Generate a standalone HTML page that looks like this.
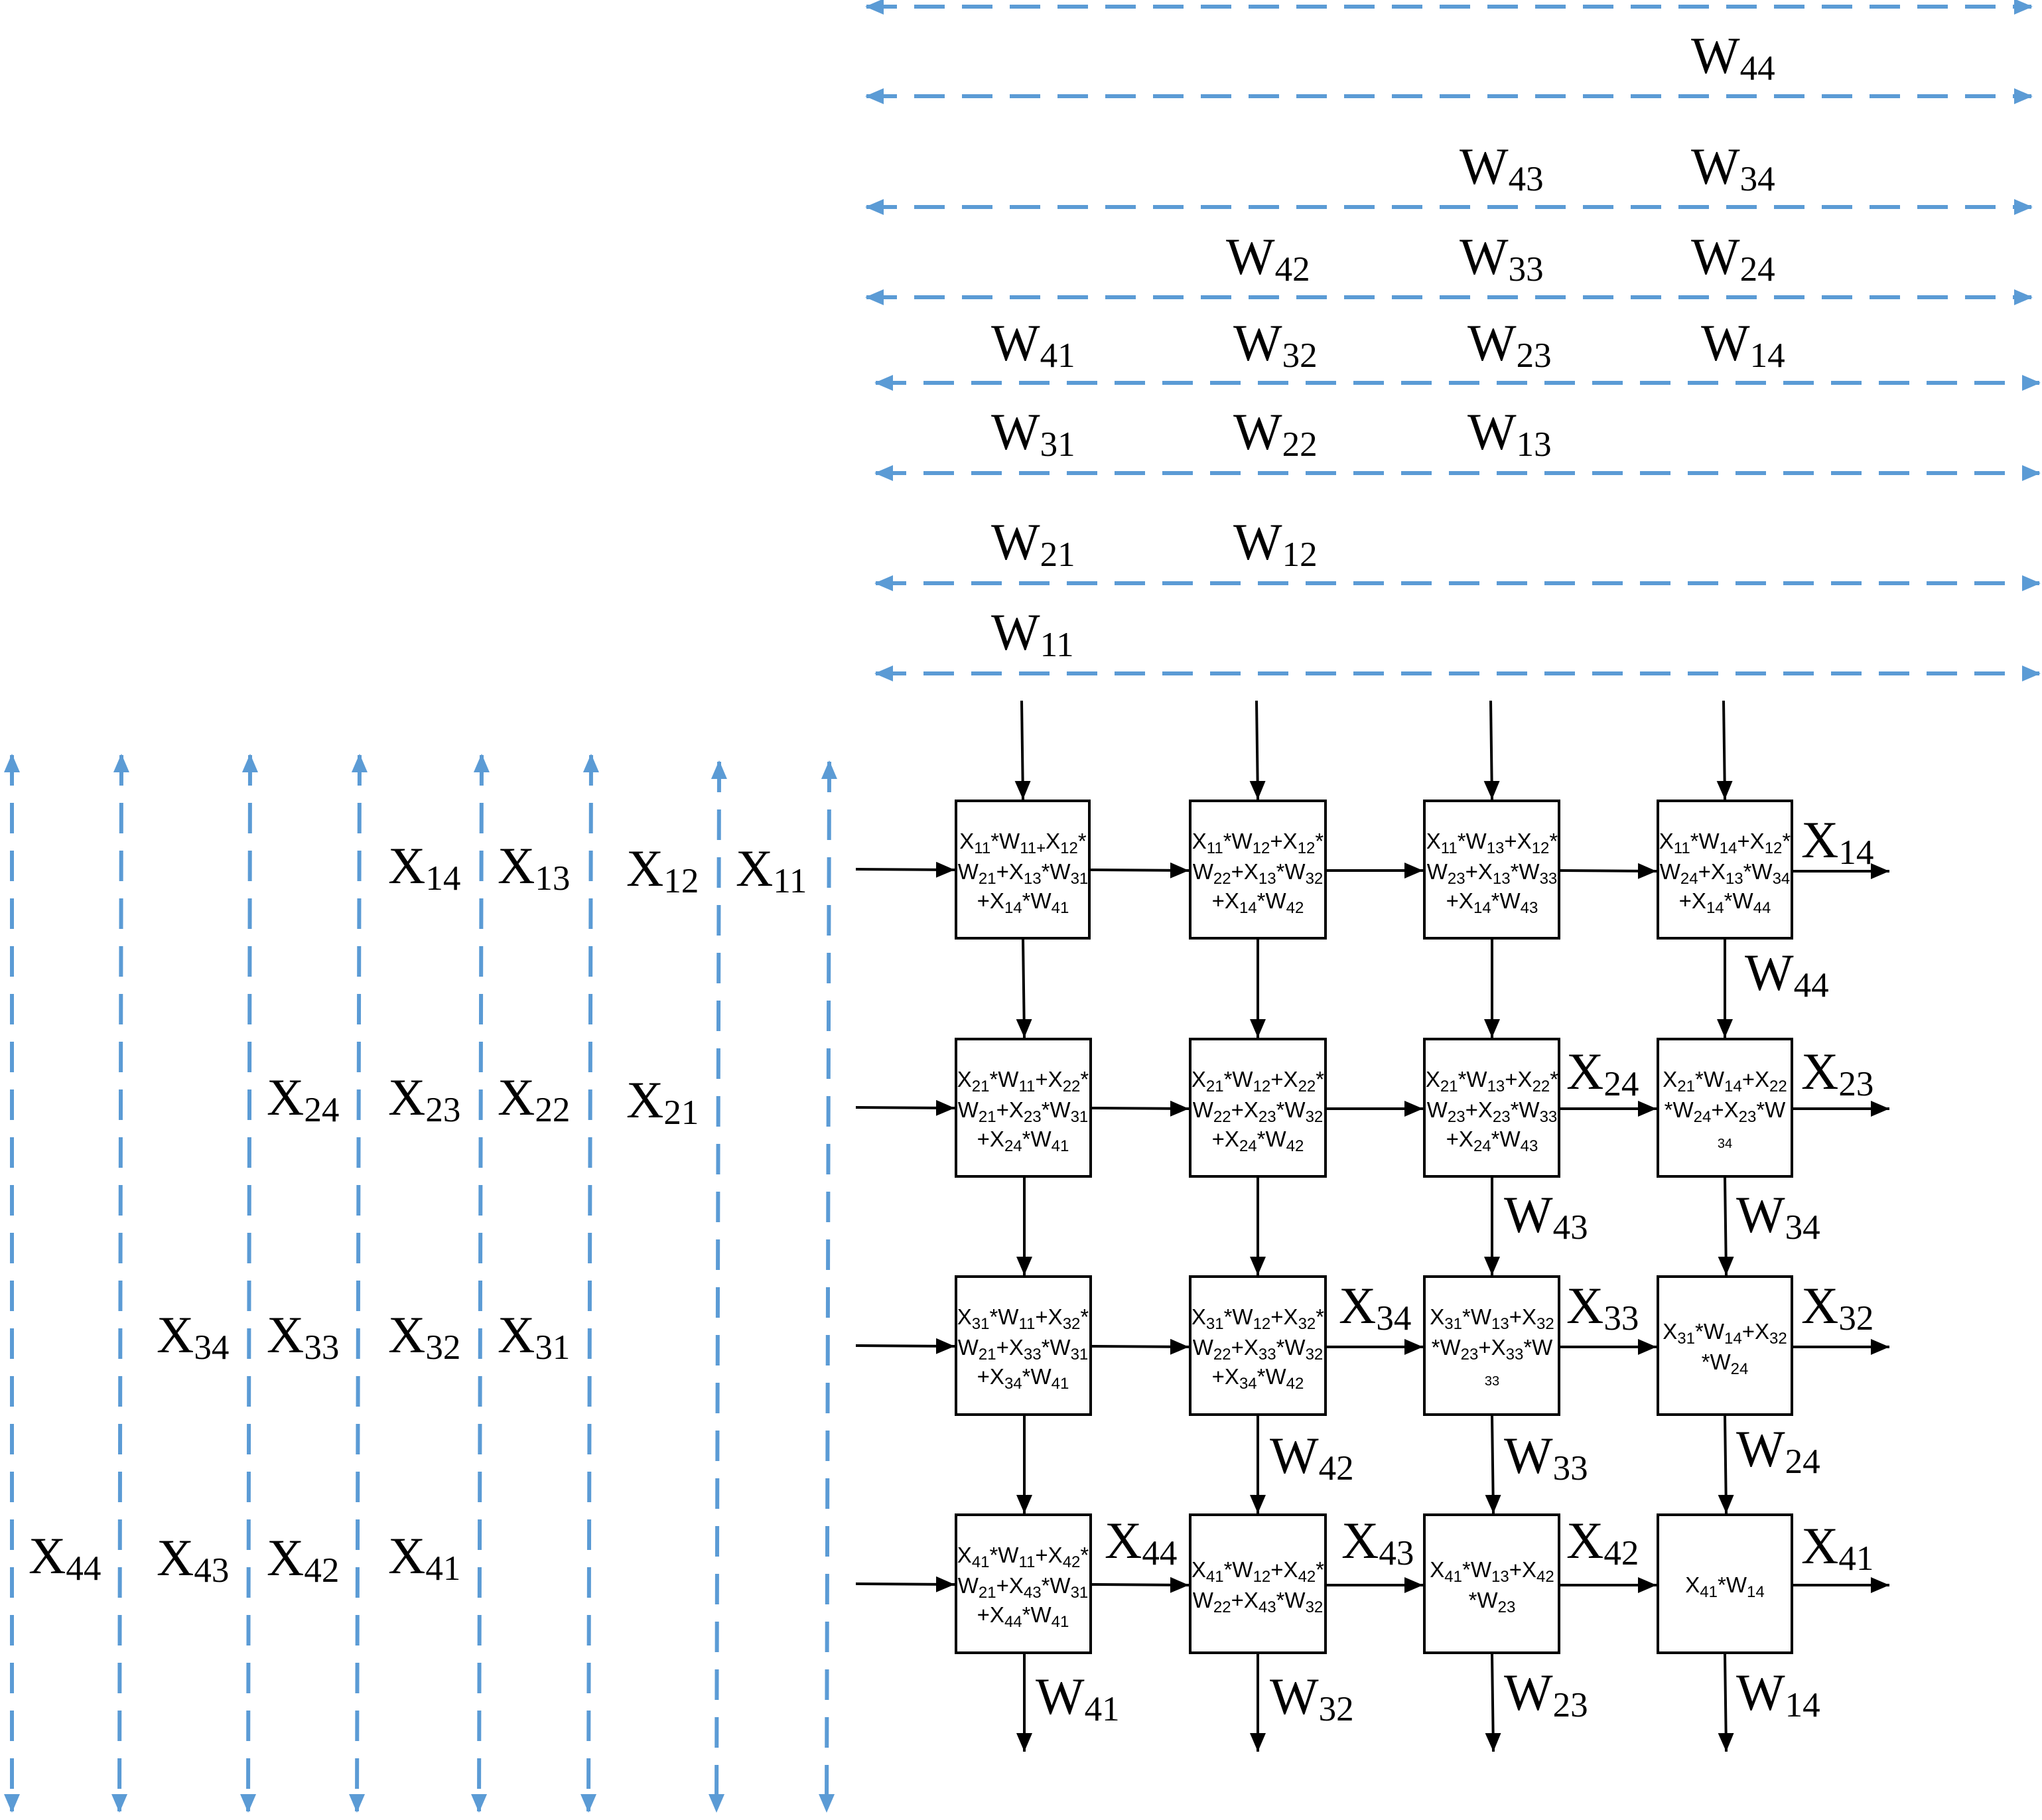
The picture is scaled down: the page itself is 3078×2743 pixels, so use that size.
<!DOCTYPE html>
<html><head><meta charset="utf-8"><style>
html,body{margin:0;padding:0;background:#fff}
svg{display:block}
.L{font-family:"Liberation Serif",serif;font-size:78px;fill:#000}
.s{font-size:53px}
.t{font-family:"Liberation Sans",sans-serif;font-size:33px;fill:#000;text-anchor:middle}
.b{font-size:24px}
.d{stroke:#5B9BD5;stroke-width:6;stroke-dasharray:46 26;fill:none}
.a{stroke:#000;stroke-width:4;fill:none}
.bx{stroke:#000;stroke-width:4;fill:#fff}
</style></head><body>
<svg width="3078" height="2743" viewBox="0 0 3078 2743" xmlns="http://www.w3.org/2000/svg">
<defs>
<marker id="bl" markerUnits="userSpaceOnUse" markerWidth="30" markerHeight="30" refX="26" refY="15" orient="auto-start-reverse"><path d="M0,3 L28,15 L0,27 Z" fill="#5B9BD5"/></marker>
<marker id="k" markerUnits="userSpaceOnUse" markerWidth="30" markerHeight="30" refX="28" refY="12" orient="auto"><path d="M0,0 L28,12 L0,24 Z" fill="#000"/></marker>
</defs>
<g class="d">
<line x1="1306" y1="10" x2="3062" y2="10" marker-start="url(#bl)" marker-end="url(#bl)"/>
<line x1="1306" y1="145" x2="3062" y2="145" marker-start="url(#bl)" marker-end="url(#bl)"/>
<line x1="1306" y1="312" x2="3062" y2="312" marker-start="url(#bl)" marker-end="url(#bl)"/>
<line x1="1306" y1="448" x2="3062" y2="448" marker-start="url(#bl)" marker-end="url(#bl)"/>
<line x1="1320" y1="577" x2="3074" y2="577" marker-start="url(#bl)" marker-end="url(#bl)"/>
<line x1="1320" y1="713" x2="3074" y2="713" marker-start="url(#bl)" marker-end="url(#bl)"/>
<line x1="1320" y1="879" x2="3074" y2="879" marker-start="url(#bl)" marker-end="url(#bl)"/>
<line x1="1320" y1="1015" x2="3074" y2="1015" marker-start="url(#bl)" marker-end="url(#bl)"/>
</g>
<g class="d">
<line x1="18" y1="1138" x2="18" y2="2730" marker-start="url(#bl)" marker-end="url(#bl)"/>
<line x1="183" y1="1138" x2="180" y2="2730" marker-start="url(#bl)" marker-end="url(#bl)"/>
<line x1="377" y1="1138" x2="374" y2="2730" marker-start="url(#bl)" marker-end="url(#bl)"/>
<line x1="542" y1="1138" x2="538" y2="2730" marker-start="url(#bl)" marker-end="url(#bl)"/>
<line x1="726" y1="1138" x2="722" y2="2730" marker-start="url(#bl)" marker-end="url(#bl)"/>
<line x1="891" y1="1138" x2="887" y2="2730" marker-start="url(#bl)" marker-end="url(#bl)"/>
<line x1="1084" y1="1148" x2="1080" y2="2730" marker-start="url(#bl)" marker-end="url(#bl)"/>
<line x1="1250" y1="1148" x2="1246" y2="2730" marker-start="url(#bl)" marker-end="url(#bl)"/>
</g>
<g class="L">
<text x="2549" y="110">W<tspan class="s" dy="10">44</tspan></text>
<text x="2200" y="277">W<tspan class="s" dy="10">43</tspan></text>
<text x="2549" y="277">W<tspan class="s" dy="10">34</tspan></text>
<text x="1848" y="413">W<tspan class="s" dy="10">42</tspan></text>
<text x="2200" y="413">W<tspan class="s" dy="10">33</tspan></text>
<text x="2549" y="413">W<tspan class="s" dy="10">24</tspan></text>
<text x="1494" y="543">W<tspan class="s" dy="10">41</tspan></text>
<text x="1859" y="543">W<tspan class="s" dy="10">32</tspan></text>
<text x="2212" y="543">W<tspan class="s" dy="10">23</tspan></text>
<text x="2564" y="543">W<tspan class="s" dy="10">14</tspan></text>
<text x="1494" y="677">W<tspan class="s" dy="10">31</tspan></text>
<text x="1859" y="677">W<tspan class="s" dy="10">22</tspan></text>
<text x="2212" y="677">W<tspan class="s" dy="10">13</tspan></text>
<text x="1494" y="843">W<tspan class="s" dy="10">21</tspan></text>
<text x="1859" y="843">W<tspan class="s" dy="10">12</tspan></text>
<text x="1494" y="979">W<tspan class="s" dy="10">11</tspan></text>
<text x="585" y="1331">X<tspan class="s" dy="10">14</tspan></text>
<text x="750" y="1331">X<tspan class="s" dy="10">13</tspan></text>
<text x="944" y="1335">X<tspan class="s" dy="10">12</tspan></text>
<text x="1109" y="1335">X<tspan class="s" dy="10">11</tspan></text>
<text x="402" y="1680">X<tspan class="s" dy="10">24</tspan></text>
<text x="585" y="1680">X<tspan class="s" dy="10">23</tspan></text>
<text x="750" y="1680">X<tspan class="s" dy="10">22</tspan></text>
<text x="944" y="1684">X<tspan class="s" dy="10">21</tspan></text>
<text x="236" y="2038">X<tspan class="s" dy="10">34</tspan></text>
<text x="402" y="2038">X<tspan class="s" dy="10">33</tspan></text>
<text x="585" y="2038">X<tspan class="s" dy="10">32</tspan></text>
<text x="750" y="2038">X<tspan class="s" dy="10">31</tspan></text>
<text x="43" y="2371">X<tspan class="s" dy="10">44</tspan></text>
<text x="236" y="2374">X<tspan class="s" dy="10">43</tspan></text>
<text x="402" y="2374">X<tspan class="s" dy="10">42</tspan></text>
<text x="585" y="2371">X<tspan class="s" dy="10">41</tspan></text>
<text x="2715" y="1292">X<tspan class="s" dy="10">14</tspan></text>
<text x="2630" y="1492">W<tspan class="s" dy="10">44</tspan></text>
<text x="2361" y="1641">X<tspan class="s" dy="10">24</tspan></text>
<text x="2715" y="1641">X<tspan class="s" dy="10">23</tspan></text>
<text x="2267" y="1857">W<tspan class="s" dy="10">43</tspan></text>
<text x="2617" y="1857">W<tspan class="s" dy="10">34</tspan></text>
<text x="2018" y="1994">X<tspan class="s" dy="10">34</tspan></text>
<text x="2361" y="1994">X<tspan class="s" dy="10">33</tspan></text>
<text x="2715" y="1994">X<tspan class="s" dy="10">32</tspan></text>
<text x="1914" y="2220">W<tspan class="s" dy="10">42</tspan></text>
<text x="2267" y="2220">W<tspan class="s" dy="10">33</tspan></text>
<text x="2617" y="2210">W<tspan class="s" dy="10">24</tspan></text>
<text x="1665" y="2348">X<tspan class="s" dy="10">44</tspan></text>
<text x="2022" y="2348">X<tspan class="s" dy="10">43</tspan></text>
<text x="2361" y="2348">X<tspan class="s" dy="10">42</tspan></text>
<text x="2715" y="2356">X<tspan class="s" dy="10">41</tspan></text>
<text x="1561" y="2583">W<tspan class="s" dy="10">41</tspan></text>
<text x="1914" y="2583">W<tspan class="s" dy="10">32</tspan></text>
<text x="2267" y="2577">W<tspan class="s" dy="10">23</tspan></text>
<text x="2617" y="2577">W<tspan class="s" dy="10">14</tspan></text>
</g>
<g class="a">
<line x1="1540" y1="1056" x2="1542" y2="1205" marker-end="url(#k)"/>
<line x1="1894" y1="1056" x2="1896" y2="1205" marker-end="url(#k)"/>
<line x1="2247" y1="1056" x2="2249" y2="1205" marker-end="url(#k)"/>
<line x1="2598" y1="1056" x2="2600" y2="1205" marker-end="url(#k)"/>
<line x1="1542" y1="1415" x2="1544" y2="1564" marker-end="url(#k)"/>
<line x1="1896" y1="1415" x2="1896" y2="1564" marker-end="url(#k)"/>
<line x1="2249" y1="1415" x2="2249" y2="1564" marker-end="url(#k)"/>
<line x1="2600" y1="1415" x2="2600" y2="1564" marker-end="url(#k)"/>
<line x1="1544" y1="1775" x2="1544" y2="1922" marker-end="url(#k)"/>
<line x1="1896" y1="1775" x2="1896" y2="1922" marker-end="url(#k)"/>
<line x1="2249" y1="1775" x2="2249" y2="1922" marker-end="url(#k)"/>
<line x1="2600" y1="1775" x2="2602" y2="1922" marker-end="url(#k)"/>
<line x1="1544" y1="2134" x2="1544" y2="2281" marker-end="url(#k)"/>
<line x1="1896" y1="2134" x2="1896" y2="2281" marker-end="url(#k)"/>
<line x1="2249" y1="2134" x2="2251" y2="2281" marker-end="url(#k)"/>
<line x1="2600" y1="2134" x2="2602" y2="2281" marker-end="url(#k)"/>
<line x1="1544" y1="2493" x2="1544" y2="2640" marker-end="url(#k)"/>
<line x1="1896" y1="2493" x2="1896" y2="2640" marker-end="url(#k)"/>
<line x1="2249" y1="2493" x2="2251" y2="2640" marker-end="url(#k)"/>
<line x1="2600" y1="2493" x2="2602" y2="2640" marker-end="url(#k)"/>
<line x1="1290" y1="1310" x2="1439" y2="1311" marker-end="url(#k)"/>
<line x1="1643" y1="1311" x2="1792" y2="1312" marker-end="url(#k)"/>
<line x1="2000" y1="1312" x2="2145" y2="1312" marker-end="url(#k)"/>
<line x1="2352" y1="1312" x2="2497" y2="1313" marker-end="url(#k)"/>
<line x1="2703" y1="1313" x2="2848" y2="1313" marker-end="url(#k)"/>
<line x1="1290" y1="1669" x2="1439" y2="1670" marker-end="url(#k)"/>
<line x1="1643" y1="1670" x2="1792" y2="1671" marker-end="url(#k)"/>
<line x1="2000" y1="1671" x2="2145" y2="1671" marker-end="url(#k)"/>
<line x1="2352" y1="1671" x2="2497" y2="1671" marker-end="url(#k)"/>
<line x1="2703" y1="1671" x2="2848" y2="1671" marker-end="url(#k)"/>
<line x1="1290" y1="2028" x2="1439" y2="2029" marker-end="url(#k)"/>
<line x1="1643" y1="2029" x2="1792" y2="2030" marker-end="url(#k)"/>
<line x1="2000" y1="2030" x2="2145" y2="2030" marker-end="url(#k)"/>
<line x1="2352" y1="2030" x2="2497" y2="2030" marker-end="url(#k)"/>
<line x1="2703" y1="2030" x2="2848" y2="2030" marker-end="url(#k)"/>
<line x1="1290" y1="2387" x2="1439" y2="2388" marker-end="url(#k)"/>
<line x1="1643" y1="2388" x2="1792" y2="2389" marker-end="url(#k)"/>
<line x1="2000" y1="2389" x2="2145" y2="2389" marker-end="url(#k)"/>
<line x1="2352" y1="2389" x2="2497" y2="2389" marker-end="url(#k)"/>
<line x1="2703" y1="2389" x2="2848" y2="2389" marker-end="url(#k)"/>
</g>
<g class="bx">
<rect x="1441" y="1207" width="201" height="207"/><rect x="1794" y="1207" width="204" height="207"/><rect x="2147" y="1207" width="203" height="207"/><rect x="2499" y="1207" width="202" height="207"/>
<rect x="1441" y="1566" width="203" height="207"/><rect x="1794" y="1566" width="204" height="207"/><rect x="2147" y="1566" width="203" height="207"/><rect x="2499" y="1566" width="202" height="207"/>
<rect x="1441" y="1924" width="203" height="208"/><rect x="1794" y="1924" width="204" height="208"/><rect x="2147" y="1924" width="203" height="208"/><rect x="2499" y="1924" width="202" height="208"/>
<rect x="1441" y="2283" width="203" height="208"/><rect x="1794" y="2283" width="204" height="208"/><rect x="2147" y="2283" width="203" height="208"/><rect x="2499" y="2283" width="202" height="208"/>
</g>
<g class="t">
<text x="1542" y="1279">X<tspan class="b" dy="7">11</tspan><tspan dy="-7">*W</tspan><tspan class="b" dy="7">11+</tspan><tspan dy="-7">X</tspan><tspan class="b" dy="7">12</tspan><tspan dy="-7">*</tspan></text>
<text x="1542" y="1325">W<tspan class="b" dy="7">21</tspan><tspan dy="-7">+X</tspan><tspan class="b" dy="7">13</tspan><tspan dy="-7">*W</tspan><tspan class="b" dy="7">31</tspan></text>
<text x="1542" y="1369">+X<tspan class="b" dy="7">14</tspan><tspan dy="-7">*W</tspan><tspan class="b" dy="7">41</tspan></text>
<text x="1896" y="1279">X<tspan class="b" dy="7">11</tspan><tspan dy="-7">*W</tspan><tspan class="b" dy="7">12</tspan><tspan dy="-7">+X</tspan><tspan class="b" dy="7">12</tspan><tspan dy="-7">*</tspan></text>
<text x="1896" y="1325">W<tspan class="b" dy="7">22</tspan><tspan dy="-7">+X</tspan><tspan class="b" dy="7">13</tspan><tspan dy="-7">*W</tspan><tspan class="b" dy="7">32</tspan></text>
<text x="1896" y="1369">+X<tspan class="b" dy="7">14</tspan><tspan dy="-7">*W</tspan><tspan class="b" dy="7">42</tspan></text>
<text x="2249" y="1279">X<tspan class="b" dy="7">11</tspan><tspan dy="-7">*W</tspan><tspan class="b" dy="7">13</tspan><tspan dy="-7">+X</tspan><tspan class="b" dy="7">12</tspan><tspan dy="-7">*</tspan></text>
<text x="2249" y="1325">W<tspan class="b" dy="7">23</tspan><tspan dy="-7">+X</tspan><tspan class="b" dy="7">13</tspan><tspan dy="-7">*W</tspan><tspan class="b" dy="7">33</tspan></text>
<text x="2249" y="1369">+X<tspan class="b" dy="7">14</tspan><tspan dy="-7">*W</tspan><tspan class="b" dy="7">43</tspan></text>
<text x="2600" y="1279">X<tspan class="b" dy="7">11</tspan><tspan dy="-7">*W</tspan><tspan class="b" dy="7">14</tspan><tspan dy="-7">+X</tspan><tspan class="b" dy="7">12</tspan><tspan dy="-7">*</tspan></text>
<text x="2600" y="1325">W<tspan class="b" dy="7">24</tspan><tspan dy="-7">+X</tspan><tspan class="b" dy="7">13</tspan><tspan dy="-7">*W</tspan><tspan class="b" dy="7">34</tspan></text>
<text x="2600" y="1369">+X<tspan class="b" dy="7">14</tspan><tspan dy="-7">*W</tspan><tspan class="b" dy="7">44</tspan></text>
<text x="1542" y="1638">X<tspan class="b" dy="7">21</tspan><tspan dy="-7">*W</tspan><tspan class="b" dy="7">11</tspan><tspan dy="-7">+X</tspan><tspan class="b" dy="7">22</tspan><tspan dy="-7">*</tspan></text>
<text x="1542" y="1684">W<tspan class="b" dy="7">21</tspan><tspan dy="-7">+X</tspan><tspan class="b" dy="7">23</tspan><tspan dy="-7">*W</tspan><tspan class="b" dy="7">31</tspan></text>
<text x="1542" y="1728">+X<tspan class="b" dy="7">24</tspan><tspan dy="-7">*W</tspan><tspan class="b" dy="7">41</tspan></text>
<text x="1896" y="1638">X<tspan class="b" dy="7">21</tspan><tspan dy="-7">*W</tspan><tspan class="b" dy="7">12</tspan><tspan dy="-7">+X</tspan><tspan class="b" dy="7">22</tspan><tspan dy="-7">*</tspan></text>
<text x="1896" y="1684">W<tspan class="b" dy="7">22</tspan><tspan dy="-7">+X</tspan><tspan class="b" dy="7">23</tspan><tspan dy="-7">*W</tspan><tspan class="b" dy="7">32</tspan></text>
<text x="1896" y="1728">+X<tspan class="b" dy="7">24</tspan><tspan dy="-7">*W</tspan><tspan class="b" dy="7">42</tspan></text>
<text x="2249" y="1638">X<tspan class="b" dy="7">21</tspan><tspan dy="-7">*W</tspan><tspan class="b" dy="7">13</tspan><tspan dy="-7">+X</tspan><tspan class="b" dy="7">22</tspan><tspan dy="-7">*</tspan></text>
<text x="2249" y="1684">W<tspan class="b" dy="7">23</tspan><tspan dy="-7">+X</tspan><tspan class="b" dy="7">23</tspan><tspan dy="-7">*W</tspan><tspan class="b" dy="7">33</tspan></text>
<text x="2249" y="1728">+X<tspan class="b" dy="7">24</tspan><tspan dy="-7">*W</tspan><tspan class="b" dy="7">43</tspan></text>
<text x="2600" y="1638">X<tspan class="b" dy="7">21</tspan><tspan dy="-7">*W</tspan><tspan class="b" dy="7">14</tspan><tspan dy="-7">+X</tspan><tspan class="b" dy="7">22</tspan></text>
<text x="2600" y="1684">*W<tspan class="b" dy="7">24</tspan><tspan dy="-7">+X</tspan><tspan class="b" dy="7">23</tspan><tspan dy="-7">*W</tspan></text>
<text x="2600" y="1730" style="font-size:20px">34</text>
<text x="1542" y="1996">X<tspan class="b" dy="7">31</tspan><tspan dy="-7">*W</tspan><tspan class="b" dy="7">11</tspan><tspan dy="-7">+X</tspan><tspan class="b" dy="7">32</tspan><tspan dy="-7">*</tspan></text>
<text x="1542" y="2042">W<tspan class="b" dy="7">21</tspan><tspan dy="-7">+X</tspan><tspan class="b" dy="7">33</tspan><tspan dy="-7">*W</tspan><tspan class="b" dy="7">31</tspan></text>
<text x="1542" y="2086">+X<tspan class="b" dy="7">34</tspan><tspan dy="-7">*W</tspan><tspan class="b" dy="7">41</tspan></text>
<text x="1896" y="1996">X<tspan class="b" dy="7">31</tspan><tspan dy="-7">*W</tspan><tspan class="b" dy="7">12</tspan><tspan dy="-7">+X</tspan><tspan class="b" dy="7">32</tspan><tspan dy="-7">*</tspan></text>
<text x="1896" y="2042">W<tspan class="b" dy="7">22</tspan><tspan dy="-7">+X</tspan><tspan class="b" dy="7">33</tspan><tspan dy="-7">*W</tspan><tspan class="b" dy="7">32</tspan></text>
<text x="1896" y="2086">+X<tspan class="b" dy="7">34</tspan><tspan dy="-7">*W</tspan><tspan class="b" dy="7">42</tspan></text>
<text x="2249" y="1996">X<tspan class="b" dy="7">31</tspan><tspan dy="-7">*W</tspan><tspan class="b" dy="7">13</tspan><tspan dy="-7">+X</tspan><tspan class="b" dy="7">32</tspan></text>
<text x="2249" y="2042">*W<tspan class="b" dy="7">23</tspan><tspan dy="-7">+X</tspan><tspan class="b" dy="7">33</tspan><tspan dy="-7">*W</tspan></text>
<text x="2249" y="2088" style="font-size:20px">33</text>
<text x="2600" y="2018">X<tspan class="b" dy="7">31</tspan><tspan dy="-7">*W</tspan><tspan class="b" dy="7">14</tspan><tspan dy="-7">+X</tspan><tspan class="b" dy="7">32</tspan></text>
<text x="2600" y="2064">*W<tspan class="b" dy="7">24</tspan></text>
<text x="1542" y="2355">X<tspan class="b" dy="7">41</tspan><tspan dy="-7">*W</tspan><tspan class="b" dy="7">11</tspan><tspan dy="-7">+X</tspan><tspan class="b" dy="7">42</tspan><tspan dy="-7">*</tspan></text>
<text x="1542" y="2401">W<tspan class="b" dy="7">21</tspan><tspan dy="-7">+X</tspan><tspan class="b" dy="7">43</tspan><tspan dy="-7">*W</tspan><tspan class="b" dy="7">31</tspan></text>
<text x="1542" y="2445">+X<tspan class="b" dy="7">44</tspan><tspan dy="-7">*W</tspan><tspan class="b" dy="7">41</tspan></text>
<text x="1896" y="2377">X<tspan class="b" dy="7">41</tspan><tspan dy="-7">*W</tspan><tspan class="b" dy="7">12</tspan><tspan dy="-7">+X</tspan><tspan class="b" dy="7">42</tspan><tspan dy="-7">*</tspan></text>
<text x="1896" y="2423">W<tspan class="b" dy="7">22</tspan><tspan dy="-7">+X</tspan><tspan class="b" dy="7">43</tspan><tspan dy="-7">*W</tspan><tspan class="b" dy="7">32</tspan></text>
<text x="2249" y="2377">X<tspan class="b" dy="7">41</tspan><tspan dy="-7">*W</tspan><tspan class="b" dy="7">13</tspan><tspan dy="-7">+X</tspan><tspan class="b" dy="7">42</tspan></text>
<text x="2249" y="2423">*W<tspan class="b" dy="7">23</tspan></text>
<text x="2600" y="2400">X<tspan class="b" dy="7">41</tspan><tspan dy="-7">*W</tspan><tspan class="b" dy="7">14</tspan></text>
</g>
</svg>
</body></html>
